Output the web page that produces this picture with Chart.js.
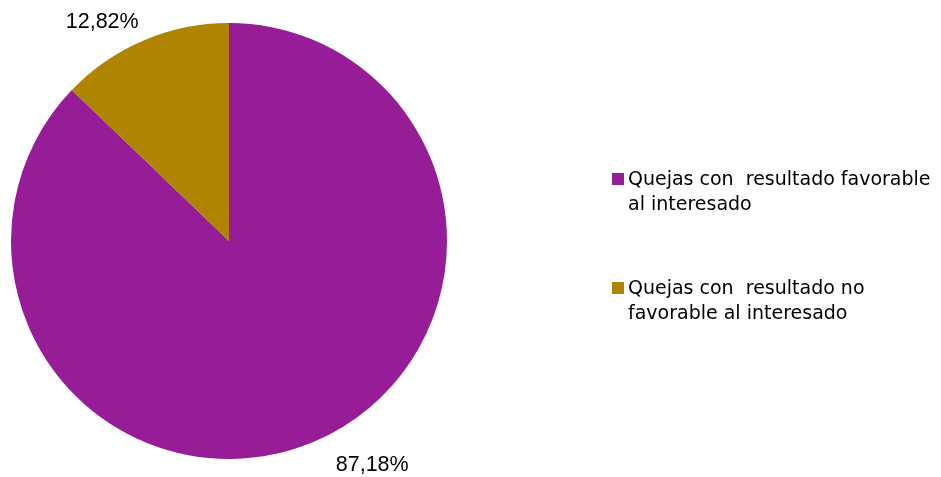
<!DOCTYPE html>
<html>
<head>
<meta charset="utf-8">
<script src="https://cdn.jsdelivr.net/npm/chart.js@4"></script>
<style>
  body { margin: 0; background: #fff; }
  .wrap { position: relative; width: 941px; height: 477px; }
  canvas { position: absolute; left: 0; top: 0; }
  .legend { position: absolute; left: 612px; top: 0; font-family: "DejaVu Sans", sans-serif; font-size: 19px; line-height: 25px; color: #000; }
  .item { position: absolute; left: 0; white-space: pre; }
  .item i { position: absolute; left: 0; top: 7px; width: 12px; height: 12px; }
  .item span { display: block; margin-left: 16px; }
</style>
</head>
<body>
<div class="wrap">
  <canvas id="pie" width="941" height="477"></canvas>
  <div class="legend" id="legend"></div>
</div>
<script>
document.addEventListener('DOMContentLoaded', () => {

const categories = ['Quejas con  resultado favorable al interesado', 'Quejas con  resultado no favorable al interesado'];
const legendLines = [['Quejas con  resultado favorable', 'al interesado'], ['Quejas con  resultado no', 'favorable al interesado']];
const values = [87.18, 12.82];
const valueLabels = ['87,18%', '12,82%'];
const colors = ['#971C97', '#AF8400'];

// label placement around the pie (angle nudge in degrees, distance past the rim)
const labelNudge = [{ angle: -9.5, dist: 48 }, { angle: -7, dist: 35 }];

const outsideLabels = {
  id: 'outsideLabels',
  afterDatasetsDraw(chart) {
    const ctx = chart.ctx;
    const meta = chart.getDatasetMeta(0);
    ctx.save();
    ctx.font = '21.5px "Liberation Sans", sans-serif';
    ctx.fillStyle = '#000';
    ctx.textAlign = 'center';
    ctx.textBaseline = 'middle';
    meta.data.forEach((arc, i) => {
      let mid = (arc.startAngle + arc.endAngle) / 2 + labelNudge[i].angle * Math.PI / 180;
      let r = arc.outerRadius + labelNudge[i].dist;
      ctx.fillText(valueLabels[i], arc.x + Math.cos(mid) * r, arc.y + Math.sin(mid) * r);
    });
    ctx.restore();
  }
};

new Chart(document.getElementById('pie'), {
  type: 'pie',
  data: {
    labels: categories,
    datasets: [{
      data: values,
      backgroundColor: colors,
      borderWidth: 0
    }]
  },
  options: {
    responsive: false,
    animation: false,
    layout: { padding: { left: 11, top: 23, right: 494, bottom: 18 } },
    plugins: { legend: { display: false }, tooltip: { enabled: false } }
  },
  plugins: [outsideLabels]
});

// legend on the right
const legend = document.getElementById('legend');
const tops = [166, 275];
legendLines.forEach((lines, i) => {
  const item = document.createElement('div');
  item.className = 'item';
  item.style.top = tops[i] + 'px';
  const sw = document.createElement('i');
  sw.style.background = colors[i];
  const txt = document.createElement('span');
  txt.textContent = lines.join('\n');
  item.appendChild(sw);
  item.appendChild(txt);
  legend.appendChild(item);
});

});
</script>
</body>
</html>
